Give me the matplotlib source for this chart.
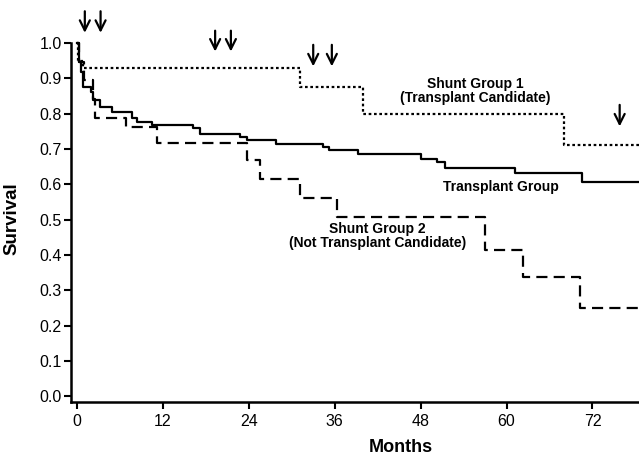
import matplotlib
matplotlib.use("Agg")
import matplotlib.pyplot as plt

plt.rcParams["font.family"] = ["Liberation Sans", "DejaVu Sans"]

# Kaplan-Meier step curves (months, survival)
transplant_t = [0, 0.3, 0.5, 0.85, 2.0, 2.2, 3.2, 4.9, 7.7, 8.4, 10.5, 16.2, 17.2,
                22.8, 23.7, 27.8, 34.4, 35.2, 39.2, 48.0, 50.3, 51.4, 61.2, 70.5, 78.5]
transplant_s = [1.0, 0.947, 0.918, 0.876, 0.862, 0.84, 0.818, 0.805, 0.787, 0.777, 0.768,
                0.760, 0.743, 0.735, 0.726, 0.715, 0.706, 0.698, 0.687, 0.673, 0.664,
                0.647, 0.633, 0.607, 0.607]

shunt1_t = [0, 0.2, 0.9, 31.1, 39.9, 68.0, 78.5]
shunt1_s = [1.0, 0.95, 0.93, 0.877, 0.80, 0.711, 0.711]

shunt2_t = [0, 0.3, 1.0, 2.2, 2.5, 6.8, 11.2, 23.7, 25.6, 31.2, 36.3, 57.0, 62.3, 70.3, 78.5]
shunt2_s = [1.0, 0.947, 0.895, 0.842, 0.789, 0.761, 0.717, 0.668, 0.615, 0.561, 0.509,
            0.415, 0.339, 0.251, 0.251]

# censoring arrows: month, tip, tail
arrow_months = [1.1, 3.3, 19.3, 21.5, 33.0, 35.6, 75.8]
arrow_tips = [1.029, 1.029, 0.976, 0.976, 0.934, 0.934, 0.764]
arrow_tails = [1.09, 1.09, 1.035, 1.035, 0.995, 0.995, 0.825]

xticks = [0, 12, 24, 36, 48, 60, 72]
yticks = [0.0, 0.1, 0.2, 0.3, 0.4, 0.5, 0.6, 0.7, 0.8, 0.9, 1.0]

fig = plt.figure(figsize=(6.39, 4.58), dpi=100)
ax = fig.add_axes([0.111, 0.1223, 0.889, 0.7837])

ax.step(transplant_t, transplant_s, where="post", color="black", lw=1.6, clip_on=False)
ax.step(shunt1_t, shunt1_s, where="post", color="black", lw=1.6,
        linestyle=(0, (1.2, 1.2)), clip_on=False)
ax.step(shunt2_t, shunt2_s, where="post", color="black", lw=1.6,
        linestyle=(0, (5, 2.8)), clip_on=False)

for m, tip, tail in zip(arrow_months, arrow_tips, arrow_tails):
    ax.annotate("", xy=(m, tip), xytext=(m, tail),
                arrowprops=dict(arrowstyle="->", lw=1.6, color="black",
                                mutation_scale=18, shrinkA=0, shrinkB=0),
                annotation_clip=False)

ax.text(55.6, 0.865, "Shunt Group 1\n(Transplant Candidate)", ha="center", va="center",
        fontsize=10, fontweight="bold", linespacing=1.0)
ax.text(59.2, 0.593, "Transplant Group", ha="center", va="center",
        fontsize=10, fontweight="bold")
ax.text(42.0, 0.453, "Shunt Group 2\n(Not Transplant Candidate)", ha="center", va="center",
        fontsize=10, fontweight="bold", linespacing=1.0)

ax.set_xlim(-0.84, 78.5)
ax.set_ylim(-0.016, 1.0)
ax.set_xticks(xticks)
ax.set_yticks(yticks)
ax.set_yticklabels([f"{v:.1f}" for v in yticks])
ax.tick_params(axis="both", direction="out", length=5, width=1.5, labelsize=11.5)
ax.tick_params(axis="x", pad=4)
ax.tick_params(axis="y", pad=1.5)

for side in ["top", "right"]:
    ax.spines[side].set_visible(False)
for side in ["left", "bottom"]:
    ax.spines[side].set_linewidth(1.8)

ax.set_xlabel("Months", fontsize=13, fontweight="bold")
ax.xaxis.set_label_coords(0.581, -0.104)
ax.set_ylabel("Survival", fontsize=13.5, fontweight="bold")
ax.yaxis.set_label_coords(-0.088, 0.51)

fig.savefig("out.png", dpi=100)
